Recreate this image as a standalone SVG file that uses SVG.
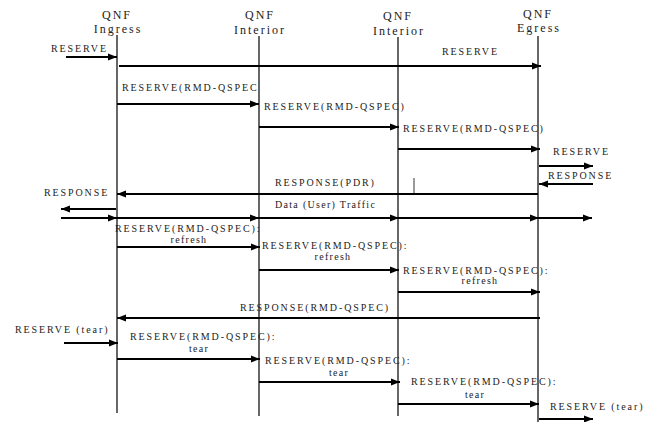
<svg xmlns="http://www.w3.org/2000/svg" width="651" height="422" viewBox="0 0 651 422">
  <style>
    text { font-family: "Liberation Serif", "Times New Roman", serif; fill: #222; }
    .hd { font-size: 12px; letter-spacing: 2px; text-anchor: middle; }
    .lb { font-size: 10px; letter-spacing: 1.9px; }
    .lc { font-size: 10px; letter-spacing: 1.3px; }
    .ctr { text-anchor: middle; }
    .life { stroke: #000; stroke-width: 1.2; fill: none; }
    .msg { stroke: #000; stroke-width: 2.2; fill: none; marker-end: url(#ah); }
    .tick { stroke: #000; stroke-width: 0.8; }
  </style>
  <defs>
    <marker id="ah" markerUnits="userSpaceOnUse" markerWidth="10" markerHeight="8" refX="9" refY="4" orient="auto">
      <path d="M0,0.5 L9,4 L0,7.5 z" fill="#000"/>
    </marker>
  </defs>

  <!-- nodes: QNF entities with lifelines -->
  <g id="ingress">
    <text class="hd" x="117" y="19">QNF</text>
    <text class="hd" x="118" y="33">Ingress</text>
    <line class="life" x1="117" y1="35" x2="117" y2="413"/>
  </g>
  <g id="interior1">
    <text class="hd" x="260" y="19">QNF</text>
    <text class="hd" x="260" y="34">Interior</text>
    <line class="life" x1="259" y1="36" x2="259" y2="416"/>
  </g>
  <g id="interior2">
    <text class="hd" x="398" y="20">QNF</text>
    <text class="hd" x="399" y="35">Interior</text>
    <line class="life" x1="398" y1="37" x2="398" y2="416"/>
  </g>
  <g id="egress">
    <text class="hd" x="538" y="18">QNF</text>
    <text class="hd" x="539" y="31.5">Egress</text>
    <line class="life" x1="538" y1="36" x2="538" y2="422"/>
  </g>

  <!-- connectors -->
  <g id="connectors">
    <line class="msg" x1="66" y1="57" x2="117" y2="57"/>
    <line class="msg" x1="119" y1="66" x2="541" y2="66"/>
    <line class="msg" x1="117" y1="104" x2="259" y2="104"/>
    <line class="msg" x1="259" y1="127" x2="399" y2="127"/>
    <line class="msg" x1="398" y1="149" x2="540" y2="149"/>
    <line class="msg" x1="539" y1="166" x2="593" y2="166"/>
    <line class="msg" x1="593" y1="184" x2="539" y2="184"/>
    <line class="msg" x1="538" y1="194" x2="117" y2="194"/>
    <line class="tick" x1="414" y1="178" x2="414" y2="194"/>
    <line class="msg" x1="116" y1="209" x2="61" y2="209"/>
    <!-- data traffic, forwarded hop by hop -->
    <line class="msg" x1="61" y1="218" x2="117" y2="218"/>
    <line class="msg" x1="117" y1="218" x2="259" y2="218"/>
    <line class="msg" x1="259" y1="218" x2="399" y2="218"/>
    <line class="msg" x1="398" y1="218" x2="539" y2="218"/>
    <line class="msg" x1="538" y1="218" x2="592" y2="218"/>
    <!-- refresh -->
    <line class="msg" x1="117" y1="247" x2="260" y2="247"/>
    <line class="msg" x1="259" y1="270" x2="399" y2="270"/>
    <line class="msg" x1="398" y1="292" x2="540" y2="292"/>
    <line class="msg" x1="540" y1="318" x2="117" y2="318"/>
    <!-- tear -->
    <line class="msg" x1="64" y1="343" x2="118" y2="343"/>
    <line class="msg" x1="117" y1="359" x2="260" y2="359"/>
    <line class="msg" x1="259" y1="382" x2="400" y2="382"/>
    <line class="msg" x1="398" y1="404" x2="539" y2="404"/>
    <line class="msg" x1="539" y1="419" x2="593" y2="419"/>
  </g>

  <!-- message labels -->
  <g id="labels">
    <text class="lb" x="51" y="52">RESERVE</text>
    <text class="lb" x="442" y="55">RESERVE</text>
    <text class="lb" x="122" y="91">RESERVE(RMD-QSPEC</text>
    <text class="lb" x="264" y="110">RESERVE(RMD-QSPEC)</text>
    <text class="lb" x="403" y="132">RESERVE(RMD-QSPEC)</text>
    <text class="lb" x="553" y="155">RESERVE</text>
    <text class="lb" x="548" y="179">RESPONSE</text>
    <text class="lb" x="275" y="186">RESPONSE(PDR)</text>
    <text class="lb" x="44" y="196">RESPONSE</text>
    <text class="lc" x="275" y="207.5">Data (User) Traffic</text>

    <text class="lb" x="115" y="232">RESERVE(RMD-QSPEC):</text>
    <text class="lc ctr" x="189" y="243">refresh</text>
    <text class="lb" x="262" y="249">RESERVE(RMD-QSPEC):</text>
    <text class="lc ctr" x="333" y="260">refresh</text>
    <text class="lb" x="403" y="274">RESERVE(RMD-QSPEC):</text>
    <text class="lc ctr" x="480" y="284">refresh</text>

    <text class="lb" x="240" y="311">RESPONSE(RMD-QSPEC)</text>

    <text class="lb" x="15" y="333">RESERVE (tear)</text>
    <text class="lb" x="130" y="340">RESERVE(RMD-QSPEC):</text>
    <text class="lc ctr" x="199" y="352">tear</text>
    <text class="lb" x="265" y="364">RESERVE(RMD-QSPEC):</text>
    <text class="lc ctr" x="339" y="376">tear</text>
    <text class="lb" x="411" y="385">RESERVE(RMD-QSPEC):</text>
    <text class="lc ctr" x="475" y="398">tear</text>
    <text class="lb" x="550" y="410">RESERVE (tear)</text>
  </g>
</svg>
